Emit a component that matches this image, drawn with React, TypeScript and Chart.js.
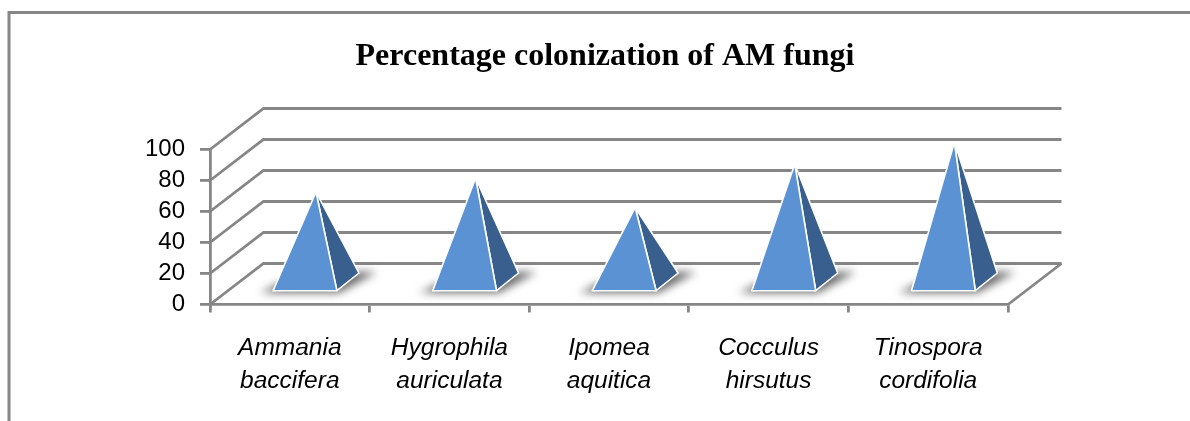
import React, { useEffect, useRef } from "react";
import { Chart, registerables } from "chart.js";

Chart.register(...registerables);

const species = [
  ["Ammania", "baccifera"],
  ["Hygrophila", "auriculata"],
  ["Ipomea", "aquitica"],
  ["Cocculus", "hirsutus"],
  ["Tinospora", "cordifolia"],
];
const colonization = [58, 67, 48, 76, 90];
const titleText = "Percentage colonization of AM fungi";

const GRID = "#868686";
const FRONT = "#5B92D3";
const SIDE = "#385F8E";
const DX = 53.5;
const DY = 41;
const LINE = 2.8;

const poly = (ctx: any, pts: number[][]) => {
  ctx.beginPath();
  pts.forEach((p, i) => (i ? ctx.lineTo(p[0], p[1]) : ctx.moveTo(p[0], p[1])));
  ctx.closePath();
};

const frame = {
  id: "frame",
  beforeDraw(chart: any) {
    const { ctx, width, height } = chart;
    ctx.save();
    ctx.strokeStyle = GRID;
    ctx.lineWidth = 3;
    ctx.beginPath();
    ctx.moveTo(9, height);
    ctx.lineTo(9, 12.5);
    ctx.lineTo(width, 12.5);
    ctx.stroke();
    ctx.restore();
  },
};

const walls = {
  id: "walls",
  beforeDatasetsDraw(chart: any) {
    const { ctx, chartArea, scales } = chart;
    const { left, right } = chartArea;
    ctx.save();
    ctx.strokeStyle = GRID;
    ctx.lineWidth = LINE;
    scales.y.ticks.forEach((t: any) => {
      const y = scales.y.getPixelForValue(t.value);
      ctx.beginPath();
      ctx.moveTo(left, y);
      ctx.lineTo(left + DX, y - DY);
      ctx.lineTo(right + DX, y - DY);
      ctx.stroke();
    });
    const y0 = scales.y.getPixelForValue(0);
    ctx.beginPath();
    ctx.moveTo(right, y0);
    ctx.lineTo(right + DX, y0 - DY);
    ctx.stroke();
    ctx.restore();
  },
};

const pyramids = {
  id: "pyramids",
  afterDatasetsDraw(chart: any) {
    const { ctx, scales } = chart;
    const y0 = scales.y.getPixelForValue(0);
    const meta = chart.getDatasetMeta(0);
    meta.data.forEach((el: any) => {
      const half = el.width / 2;
      const cx = el.x + 15.2;
      const fl = cx - half;
      const fr = cx + half;
      const fy = y0 - 13.8;
      const bx = fr + 22;
      const by = fy - 17.7;
      const apex = [cx + 11, el.y - 22.65];

      ctx.save();
      ctx.filter = "blur(4px)";
      ctx.fillStyle = "rgba(40,40,40,0.7)";
      poly(ctx, [
        [fl - 13, fy + 2],
        [fr + 2, fy + 2],
        [bx + 18, by - 1],
        [bx - 10, by - 1],
        [fl + 8, fy - 8],
      ]);
      ctx.fill();
      ctx.restore();

      ctx.save();
      ctx.strokeStyle = "#FFFFFF";
      ctx.lineWidth = 1.6;
      ctx.lineJoin = "round";
      ctx.fillStyle = SIDE;
      poly(ctx, [[fr, fy], [bx, by], apex]);
      ctx.fill();
      ctx.stroke();
      ctx.fillStyle = FRONT;
      poly(ctx, [[fl, fy], [fr, fy], apex]);
      ctx.fill();
      ctx.stroke();
      ctx.restore();
    });
  },
};

export default function App() {
  const ref = useRef<HTMLCanvasElement>(null);
  useEffect(() => {
    const chart = new Chart(ref.current as any, {
      type: "bar",
      data: {
        labels: species as any,
        datasets: [
          {
            label: "Percentage colonization",
            data: colonization,
            backgroundColor: "rgba(0,0,0,0)",
            borderWidth: 0,
            categoryPercentage: 1,
            barPercentage: 0.4,
          },
        ],
      },
      plugins: [frame, walls, pyramids],
      options: {
        responsive: false,
        animation: false,
        layout: { padding: { left: 20, right: 0, top: 0, bottom: 0 } },
        plugins: {
          legend: { display: false },
          tooltip: { enabled: false },
          title: {
            display: true,
            text: titleText,
            color: "#000000",
            font: { family: "'Liberation Serif'", size: 32, weight: "bold", lineHeight: 1.2 },
            padding: { top: 38, bottom: 73.1 },
          },
        },
        scales: {
          x: {
            offset: true,
            border: { display: true, color: GRID, width: LINE },
            grid: { display: true, drawOnChartArea: false, drawTicks: true, tickLength: 8, color: GRID, lineWidth: LINE, offset: true },
            ticks: {
              autoSkip: false,
              maxRotation: 0,
              minRotation: 0,
              color: "#000000",
              padding: 19,
              font: { family: "'Liberation Sans'", size: 24.5, style: "italic", lineHeight: 1.347 },
            },
            afterFit(s: any) {
              s.height = 116.5;
            },
          },
          y: {
            min: 0,
            max: 100,
            border: { display: true, color: GRID, width: LINE },
            grid: { display: true, drawOnChartArea: false, drawTicks: true, tickLength: 10, color: GRID, lineWidth: LINE },
            ticks: {
              stepSize: 20,
              autoSkip: false,
              color: "#000000",
              padding: 15,
              font: { family: "'Liberation Sans'", size: 24 },
            },
            afterFit(s: any) {
              s.width = 190;
            },
          },
          spacer: {
            position: "right",
            display: true,
            border: { display: false },
            grid: { display: false },
            ticks: { display: false },
            afterFit(s: any) {
              s.width = 182;
            },
          },
        },
      },
    } as any);
    return () => chart.destroy();
  }, []);
  return (
    <div style={{ position: "absolute", left: 0, top: 0, width: 1190, height: 421, background: "#fff" }}>
      <canvas ref={ref} width={1190} height={421} style={{ display: "block" }} />
    </div>
  );
}
